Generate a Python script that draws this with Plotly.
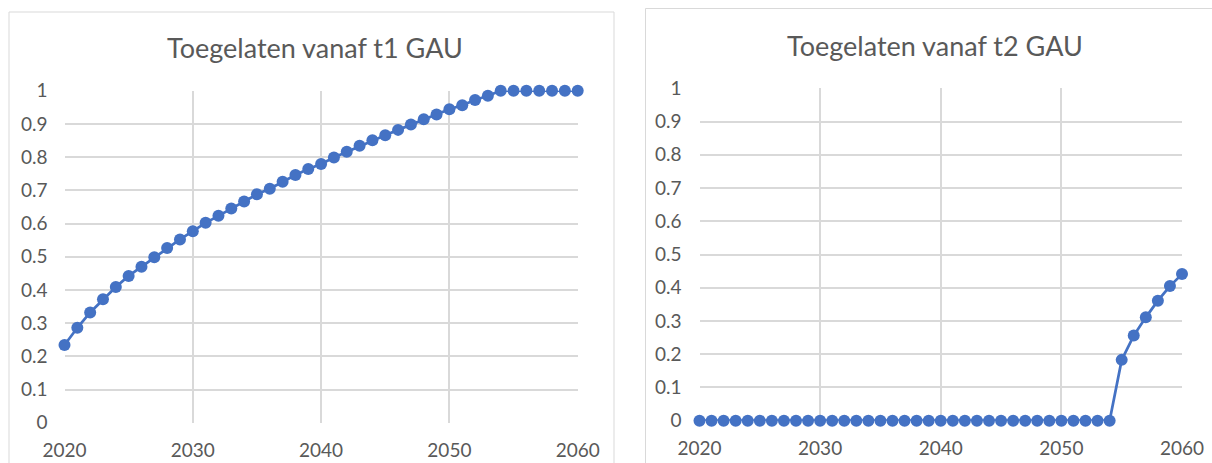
import plotly.graph_objects as go

years = list(range(2020, 2061))
t1_values = [0.234, 0.286, 0.332, 0.372, 0.409, 0.442, 0.470, 0.498, 0.526, 0.552,
             0.577, 0.602, 0.623, 0.645, 0.666, 0.688, 0.705, 0.726, 0.746, 0.764,
             0.779, 0.799, 0.816, 0.834, 0.851, 0.866, 0.882, 0.898, 0.914, 0.928,
             0.944, 0.956, 0.972, 0.985, 1.0, 1.0, 1.0, 1.0, 1.0, 1.0, 1.0]
t2_values = [0.0] * 35 + [0.183, 0.256, 0.311, 0.361, 0.405, 0.441]
titles = ["Toegelaten vanaf t1 GAU", "Toegelaten vanaf t2 GAU"]
y_tickvals = [0, 0.1, 0.2, 0.3, 0.4, 0.5, 0.6, 0.7, 0.8, 0.9, 1]
y_ticktext = ["0", "0.1", "0.2", "0.3", "0.4", "0.5", "0.6", "0.7", "0.8", "0.9", "1"]
x_tickvals = [2020, 2030, 2040, 2050, 2060]

W, H = 1212, 463
BLUE = "#4472C4"
GRID = "#D9D9D9"
TXT = "#595959"
FONT = "Lato"

fig = go.Figure()
for i, vals in enumerate([t1_values, t2_values]):
    sfx = "" if i == 0 else "2"
    fig.add_trace(go.Scatter(
        x=years, y=vals, mode="lines+markers",
        line=dict(color=BLUE, width=2.75),
        marker=dict(color=BLUE, size=12),
        cliponaxis=False, showlegend=False,
        xaxis="x" + sfx, yaxis="y" + sfx))

def px_x(v):
    return v / W

def px_y(v):
    return 1 - v / H

axis_common = dict(showgrid=True, gridcolor=GRID, gridwidth=1.5, zeroline=False,
                   showline=False, ticks="", automargin=False,
                   tickfont=dict(family=FONT, size=19, color=TXT),
                   fixedrange=True)

fig.update_layout(
    width=W, height=H, margin=dict(l=0, r=0, t=0, b=0, autoexpand=False),
    paper_bgcolor="white", plot_bgcolor="white",
    xaxis=dict(domain=[px_x(64.5), px_x(577.7)], range=[2020, 2060], tickvals=x_tickvals,
               anchor="y", ticklabelstandoff=14, **axis_common),
    yaxis=dict(domain=[px_y(422.7), px_y(90.7)], range=[0, 1], tickvals=y_tickvals,
               ticktext=y_ticktext, anchor="x", ticklabelstandoff=16, **axis_common),
    xaxis2=dict(domain=[px_x(699.5), px_x(1182)], range=[2020, 2060], tickvals=x_tickvals,
                anchor="y2", ticklabelstandoff=14, **axis_common),
    yaxis2=dict(domain=[px_y(420.7), px_y(88.3)], range=[0, 1], tickvals=y_tickvals,
                ticktext=y_ticktext, anchor="x2", ticklabelstandoff=17, **axis_common),
    shapes=[
        dict(type="rect", xref="paper", yref="paper",
             x0=px_x(9), x1=px_x(614), y0=px_y(470), y1=px_y(12),
             line=dict(color=GRID, width=1), layer="below"),
        dict(type="rect", xref="paper", yref="paper",
             x0=px_x(645.5), x1=px_x(1220), y0=px_y(470), y1=px_y(8.5),
             line=dict(color=GRID, width=1), layer="below"),
    ],
    annotations=[
        dict(text=titles[0], xref="paper", yref="paper", x=px_x(315), y=px_y(47),
             xanchor="center", yanchor="middle", showarrow=False,
             font=dict(family=FONT, size=27, color=TXT)),
        dict(text=titles[1], xref="paper", yref="paper", x=px_x(935), y=px_y(45),
             xanchor="center", yanchor="middle", showarrow=False,
             font=dict(family=FONT, size=27, color=TXT)),
    ],
)

fig.write_html("out.html", config={"displayModeBar": False},
               post_script="document.body.style.margin='0px';document.body.style.overflow='hidden';")
